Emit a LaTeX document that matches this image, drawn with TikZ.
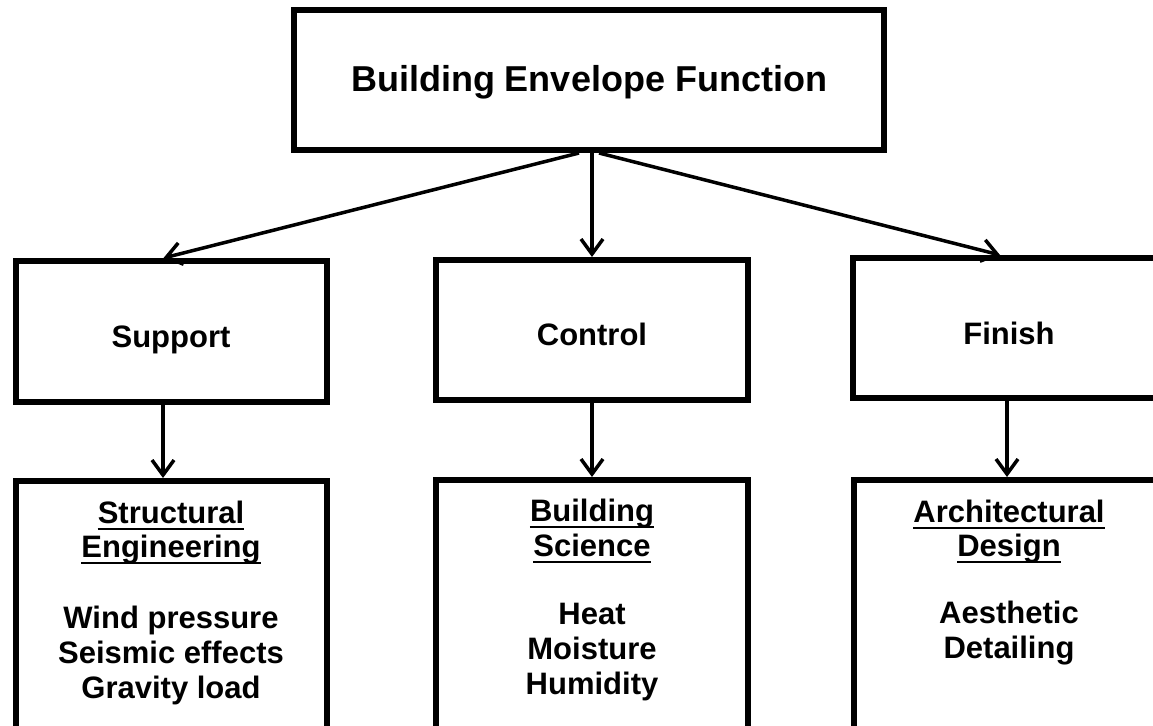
\documentclass[tikz,border=0pt]{standalone}
\usepackage{fontspec}
\setmainfont{Liberation Sans}
\usetikzlibrary{arrows.meta}
\begin{document}
\begin{tikzpicture}[x=1pt,y=-1pt,
  box/.style={draw=black, line width=6pt, fill=white, rectangle, inner sep=0pt},
  conn/.style={line width=3.5pt, -{Straight Barb[length=15pt,width=22pt]}},
  lbl/.style={anchor=base, inner sep=0pt, font=\fontsize{31}{35}\selectfont\bfseries},
  ttl/.style={anchor=base, inner sep=0pt, font=\fontsize{36}{40}\selectfont\bfseries},
  ul/.style={line width=2pt}]
\useasboundingbox (0,0) rectangle (1153,725);
\clip (0,0) rectangle (1153,725);
\fill[white] (0,0) rectangle (1153,725);

% boxes
\node[box, minimum width=590pt, minimum height=140pt] (top) at (589,80) {};
\node[box, minimum width=311pt, minimum height=141pt] (sup) at (171.5,331.5) {};
\node[box, minimum width=312pt, minimum height=140pt] (con) at (592,330) {};
\node[box, minimum width=312pt, minimum height=140pt] (fin) at (1009,328) {};
\node[box, minimum width=311pt, minimum height=280pt] (supD) at (171.5,621) {};
\node[box, minimum width=312pt, minimum height=280pt] (conD) at (592,620) {};
\node[box, minimum width=312pt, minimum height=280pt] (finD) at (1010,620) {};

% connectors
\draw[conn] ([xshift=-10pt]top.south) -- ([xshift=-8pt]sup.north);
\draw[conn] (con.north |- top.south) -- (con.north);
\draw[conn] ([xshift=10pt]top.south) -- ([xshift=-9pt]fin.north);
\draw[conn] ([xshift=-8.5pt]sup.south) -- ([xshift=-8.5pt]supD.north);
\draw[conn] (con.south) -- (conD.north);
\draw[conn] ([xshift=-2pt]fin.south) -- ([xshift=-3pt]finD.north);

% texts
\node[ttl] (tTop) at (589,92) {Building Envelope Function};
\node[lbl] (tSup) at (171,347) {Support};
\node[lbl] (tCon) at (592,345) {Control};
\node[lbl] (tFin) at (1009,344) {Finish};

% support detail
\node[lbl] (s1) at (171,523) {Structural};
\node[lbl] (s2) at (171,557) {Engineering};
\node[lbl] (s3) at (171,628) {Wind pressure};
\node[lbl] (s4) at (171,663) {Seismic effects};
\node[lbl] (s5) at (171,698) {Gravity load};
\draw[ul] ([yshift=-5.5pt]s1.base west) -- ([yshift=-5.5pt]s1.base east);
\draw[ul] ([yshift=-5.5pt]s2.base west) -- ([yshift=-5.5pt]s2.base east);

% control detail
\node[lbl] (c1) at (592,521) {Building};
\node[lbl] (c2) at (592,556) {Science};
\node[lbl] (c3) at (592,624) {Heat};
\node[lbl] (c4) at (592,659) {Moisture};
\node[lbl] (c5) at (592,694) {Humidity};
\draw[ul] ([yshift=-5.5pt]c1.base west) -- ([yshift=-5.5pt]c1.base east);
\draw[ul] ([yshift=-5.5pt]c2.base west) -- ([yshift=-5.5pt]c2.base east);

% finish detail
\node[lbl] (f1) at (1009,522) {Architectural};
\node[lbl] (f2) at (1009,556) {Design};
\node[lbl] (f3) at (1009,623) {Aesthetic};
\node[lbl] (f4) at (1009,658) {Detailing};
\draw[ul] ([yshift=-5.5pt]f1.base west) -- ([yshift=-5.5pt]f1.base east);
\draw[ul] ([yshift=-5.5pt]f2.base west) -- ([yshift=-5.5pt]f2.base east);
\end{tikzpicture}
\end{document}
